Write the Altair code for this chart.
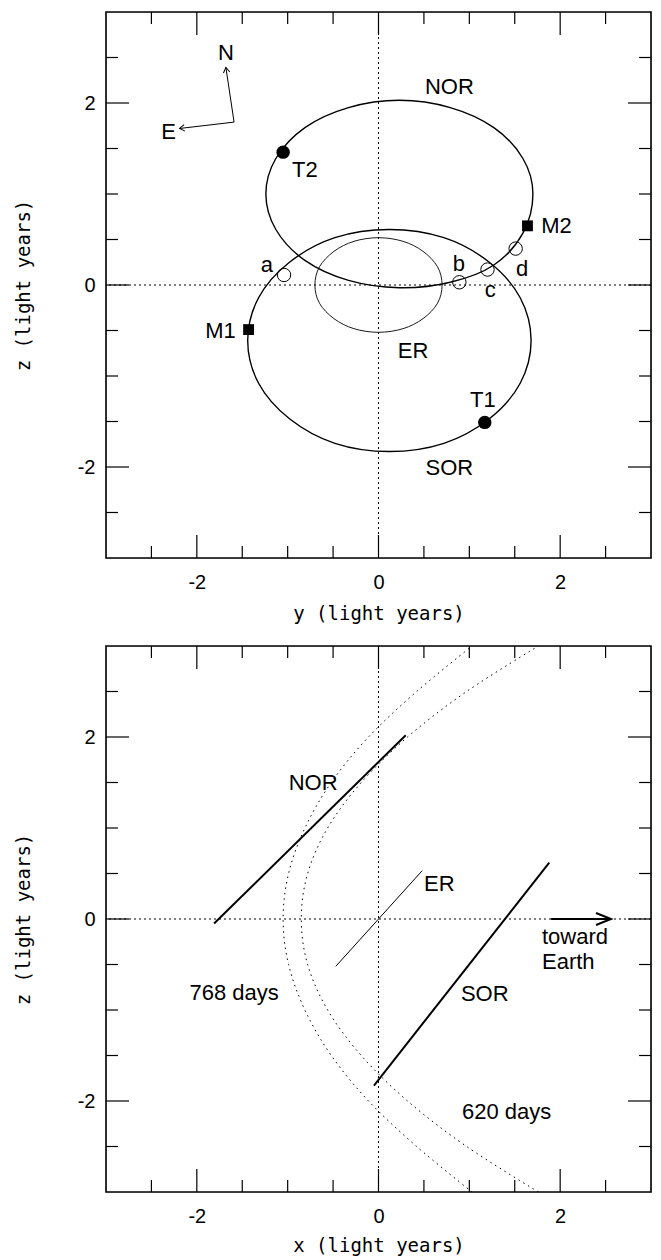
import altair as alt
import pandas as pd

# ---------------- data (light years) ----------------
# top panel: y-z plane
nor_y = [1.70, 1.59, 1.27, 0.79, 0.23, -0.33, -0.81, -1.13, -1.24, -1.13, -0.81, -0.33, 0.23, 0.79, 1.27, 1.59]
nor_z = [1.00, 1.39, 1.73, 1.95, 2.03, 1.95, 1.73, 1.39, 1.00, 0.61, 0.27, 0.05, -0.03, 0.03, 0.22, 0.57]
sor_y = [1.68, 1.56, 1.22, 0.72, 0.12, -0.48, -0.98, -1.32, -1.44, -1.32, -0.98, -0.48, 0.12, 0.72, 1.22, 1.56]
sor_z = [-0.61, -0.14, 0.25, 0.52, 0.61, 0.52, 0.25, -0.14, -0.61, -1.08, -1.47, -1.74, -1.83, -1.74, -1.47, -1.08]
er_y = [0.70, 0.65, 0.49, 0.27, 0.00, -0.27, -0.49, -0.65, -0.70, -0.65, -0.49, -0.27, 0.00, 0.27, 0.49, 0.65]
er_z = [0.00, 0.20, 0.37, 0.48, 0.52, 0.48, 0.37, 0.20, 0.00, -0.20, -0.37, -0.48, -0.52, -0.48, -0.37, -0.20]

dot_names = ["T1", "T2"]
dot_y = [1.17, -1.05]
dot_z = [-1.51, 1.46]
sq_names = ["M1", "M2"]
sq_y = [-1.43, 1.64]
sq_z = [-0.49, 0.65]
ring_names = ["a", "b", "c", "d"]
ring_y = [-1.04, 0.89, 1.20, 1.51]
ring_z = [0.11, 0.03, 0.17, 0.40]

top_labels = ["NOR", "SOR", "ER", "T1", "T2", "M1", "M2", "a", "b", "c", "d"]
top_label_y = [0.78, 0.78, 0.38, 1.15, -0.81, -1.74, 1.96, -1.23, 0.885, 1.23, 1.58]
top_label_z = [2.18, -2.01, -0.72, -1.26, 1.26, -0.51, 0.65, 0.22, 0.23, -0.05, 0.18]

compass_from_y = [-1.59, -1.59]
compass_from_z = [1.79, 1.79]
compass_tip_y = [-1.68, -2.19]
compass_tip_z = [2.39, 1.72]
compass_labels = ["N", "E"]
compass_label_y = [-1.68, -2.31]
compass_label_z = [2.55, 1.68]

# bottom panel: x-z plane
par_z = [-3.0, -2.5, -2.0, -1.5, -1.0, -0.5, 0.0, 0.5, 1.0, 1.5, 2.0, 2.5, 3.0]
par768_x = [1.03, 0.42, -0.11, -0.52, -0.81, -0.99, -1.05, -0.99, -0.81, -0.52, -0.11, 0.42, 1.03]
par620_x = [1.76, 0.97, 0.32, -0.19, -0.56, -0.78, -0.85, -0.78, -0.56, -0.19, 0.32, 0.97, 1.76]

thick_names = ["NOR", "SOR"]
thick_x1 = [-1.81, -0.05]
thick_z1 = [-0.05, -1.83]
thick_x2 = [0.30, 1.88]
thick_z2 = [2.02, 0.62]
er_x1, er_z1, er_x2, er_z2 = [-0.47], [-0.52], [0.48], [0.53]
earth_x1, earth_z1, earth_x2, earth_z2 = [1.90], [0.0], [2.56], [0.0]

bot_labels = ["NOR", "ER", "SOR", "toward", "Earth", "768 days", "620 days"]
bot_label_x = [-0.72, 0.67, 1.17, 1.80, 1.80, -1.59, 1.41]
bot_label_z = [1.50, 0.38, -0.82, -0.20, -0.475, -0.81, -2.12]
bot_label_align = ["center", "center", "center", "left", "left", "center", "center"]

tick_minor = [-2.5, -1.5, -1.0, -0.5, 0.5, 1.0, 1.5, 2.5]
tick_major = [-2.0, 0.0, 2.0]
tick_labels = [-2, 0, 2]

# ---------------- helpers ----------------
W, H = 545, 546
LABEL_FONT = "Liberation Sans"
TITLE_FONT = "DejaVu Sans Mono"


def enc(xtitle, ytitle, xtitle_pad):
    sc = alt.Scale(domain=[-3, 3], nice=False, zero=False)
    ax = alt.Axis(values=tick_labels, labelExpr="'' + datum.value", ticks=False, domain=False,
                  grid=False, labelFont=LABEL_FONT, labelFontSize=20, labelColor="black",
                  labelPadding=14, titleFont=TITLE_FONT, titleFontSize=19,
                  titleFontWeight="normal", titleColor="black", titlePadding=xtitle_pad,
                  title=xtitle)
    ay = alt.Axis(values=tick_labels, labelExpr="'' + datum.value", ticks=False, domain=False,
                  grid=False, labelFont=LABEL_FONT, labelFontSize=20, labelColor="black",
                  labelPadding=11, titleFont=TITLE_FONT, titleFontSize=19,
                  titleFontWeight="normal", titleColor="black", titlePadding=44, title=ytitle)
    X = lambda f: alt.X(f, type="quantitative", scale=sc, axis=ax)
    Y = lambda f: alt.Y(f, type="quantitative", scale=sc, axis=ay)
    return X, Y


def frame_ticks(X, Y):
    layers = []
    for vals, L in ((tick_minor, 12), (tick_major, 23)):
        d = pd.DataFrame({"x": vals, "y": vals})
        base = alt.Chart(d).mark_rule(color="black", strokeWidth=1.2)
        layers.append(base.encode(x=X("x"), y=alt.value(0), y2=alt.value(L)))
        layers.append(base.encode(x=X("x"), y=alt.value(H), y2=alt.value(H - L)))
        layers.append(base.encode(y=Y("y"), x=alt.value(0), x2=alt.value(L)))
        layers.append(base.encode(y=Y("y"), x=alt.value(W), x2=alt.value(W - L)))
    box = alt.Chart(pd.DataFrame({"k": [0]})).mark_rect(
        fill=None, fillOpacity=0, stroke="black", strokeWidth=1.6
    ).encode(x=alt.value(0), x2=alt.value(W), y=alt.value(0), y2=alt.value(H))
    layers.append(box)
    return layers


def cross_lines(X, Y):
    d = pd.DataFrame({"x": [0.0], "y": [0.0]})
    return [
        alt.Chart(d).mark_rule(color="black", strokeWidth=1, strokeDash=[2, 3]).encode(x=X("x")),
        alt.Chart(d).mark_rule(color="black", strokeWidth=1, strokeDash=[2, 3]).encode(y=Y("y")),
    ]


def closed_curve(X, Y, xs, ys, width):
    d = pd.DataFrame({"x": xs, "y": ys, "i": list(range(len(xs)))})
    return alt.Chart(d).mark_line(color="black", strokeWidth=width, interpolate="cardinal-closed",
                                  clip=True).encode(x=X("x"), y=Y("y"), order="i:Q")


# ---------------- top panel ----------------
Xt, Yt = enc("y (light years)", "z (light years)", 12)
top_layers = cross_lines(Xt, Yt)
top_layers += [
    closed_curve(Xt, Yt, nor_y, nor_z, 1.4),
    closed_curve(Xt, Yt, sor_y, sor_z, 1.4),
    closed_curve(Xt, Yt, er_y, er_z, 0.9),
]
top_layers.append(alt.Chart(pd.DataFrame({"x": dot_y, "y": dot_z, "n": dot_names}))
                  .mark_point(shape="circle", filled=True, color="black", size=180, opacity=1)
                  .encode(x=Xt("x"), y=Yt("y")))
top_layers.append(alt.Chart(pd.DataFrame({"x": sq_y, "y": sq_z, "n": sq_names}))
                  .mark_point(shape="square", filled=True, color="black", size=118, opacity=1)
                  .encode(x=Xt("x"), y=Yt("y")))
top_layers.append(alt.Chart(pd.DataFrame({"x": ring_y, "y": ring_z, "n": ring_names}))
                  .mark_point(shape="circle", filled=False, color="black", strokeWidth=1, size=180,
                              opacity=1)
                  .encode(x=Xt("x"), y=Yt("y")))
top_layers.append(alt.Chart(pd.DataFrame({"x": top_label_y, "y": top_label_z, "t": top_labels}))
                  .mark_text(font=LABEL_FONT, fontSize=22, color="black", align="center",
                             baseline="middle")
                  .encode(x=Xt("x"), y=Yt("y"), text="t:N"))
comp = pd.DataFrame({"x": compass_from_y, "y": compass_from_z,
                     "x2": compass_tip_y, "y2": compass_tip_z})
top_layers.append(alt.Chart(comp).mark_rule(color="black", strokeWidth=1)
                  .encode(x=Xt("x"), y=Yt("y"), x2="x2:Q", y2="y2:Q"))
VHEAD = "M-0.65,1L0,0L0.65,1"
top_layers.append(alt.Chart(pd.DataFrame({"x": compass_tip_y[:1], "y": compass_tip_z[:1]}))
                  .mark_point(shape=VHEAD, filled=False, color="black", strokeWidth=1, size=100,
                              angle=351.4, opacity=1)
                  .encode(x=Xt("x"), y=Yt("y")))
top_layers.append(alt.Chart(pd.DataFrame({"x": compass_tip_y[1:], "y": compass_tip_z[1:]}))
                  .mark_point(shape=VHEAD, filled=False, color="black", strokeWidth=1, size=100,
                              angle=262.9, opacity=1)
                  .encode(x=Xt("x"), y=Yt("y")))
top_layers.append(alt.Chart(pd.DataFrame({"x": compass_label_y, "y": compass_label_z,
                                          "t": compass_labels}))
                  .mark_text(font=LABEL_FONT, fontSize=22, color="black", align="center",
                             baseline="middle")
                  .encode(x=Xt("x"), y=Yt("y"), text="t:N"))
top_layers += frame_ticks(Xt, Yt)
top = alt.layer(*top_layers).properties(width=W, height=H)

# ---------------- bottom panel ----------------
Xb, Yb = enc("x (light years)", "z (light years)", 10)
bot_layers = cross_lines(Xb, Yb)
for px in (par768_x, par620_x):
    d = pd.DataFrame({"x": px, "y": par_z, "i": list(range(len(px)))})
    bot_layers.append(alt.Chart(d).mark_line(color="black", strokeWidth=1, strokeDash=[1.5, 4],
                                             interpolate="cardinal", clip=True)
                      .encode(x=Xb("x"), y=Yb("y"), order="i:Q"))
bot_layers.append(alt.Chart(pd.DataFrame({"x": thick_x1, "y": thick_z1, "x2": thick_x2,
                                          "y2": thick_z2, "n": thick_names}))
                  .mark_rule(color="black", strokeWidth=2)
                  .encode(x=Xb("x"), y=Yb("y"), x2="x2:Q", y2="y2:Q"))
bot_layers.append(alt.Chart(pd.DataFrame({"x": er_x1, "y": er_z1, "x2": er_x2, "y2": er_z2}))
                  .mark_rule(color="black", strokeWidth=1)
                  .encode(x=Xb("x"), y=Yb("y"), x2="x2:Q", y2="y2:Q"))
bot_layers.append(alt.Chart(pd.DataFrame({"x": earth_x1, "y": earth_z1, "x2": earth_x2,
                                          "y2": earth_z2}))
                  .mark_rule(color="black", strokeWidth=2)
                  .encode(x=Xb("x"), y=Yb("y"), x2="x2:Q", y2="y2:Q"))
bot_layers.append(alt.Chart(pd.DataFrame({"x": earth_x2, "y": earth_z2}))
                  .mark_point(shape="M-0.4,1L0,0L0.4,1", filled=False, color="black",
                              strokeWidth=2, size=900, angle=90, opacity=1)
                  .encode(x=Xb("x"), y=Yb("y")))
lab = pd.DataFrame({"x": bot_label_x, "y": bot_label_z, "t": bot_labels, "a": bot_label_align})
for al in ("center", "left"):
    bot_layers.append(alt.Chart(lab[lab["a"] == al])
                      .mark_text(font=LABEL_FONT, fontSize=22, color="black", align=al,
                                 baseline="middle")
                      .encode(x=Xb("x"), y=Yb("y"), text="t:N"))
bot_layers += frame_ticks(Xb, Yb)
bottom = alt.layer(*bot_layers).properties(width=W, height=H)

chart = alt.vconcat(top, bottom, spacing=20).properties(
    padding={"left": 13, "top": 10, "right": 0, "bottom": 0}
).configure_view(strokeWidth=0).configure(background="white")

chart.save("out.html", embed_options={"renderer": "svg", "actions": False})
